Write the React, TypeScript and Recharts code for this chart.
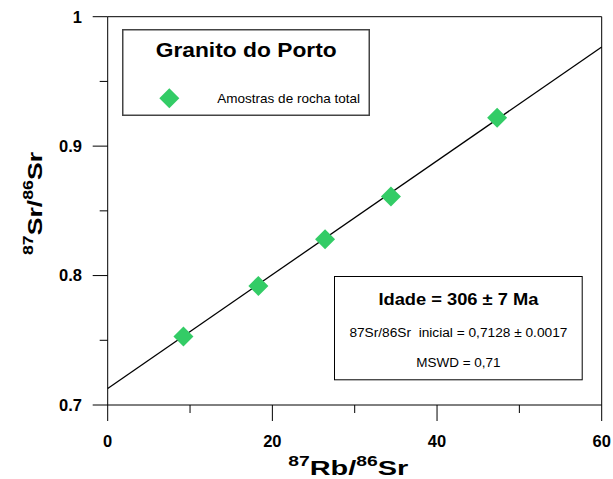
import React from 'react';
import { ScatterChart, Scatter, XAxis, YAxis, ReferenceLine, Legend } from 'recharts';

// Rb-Sr whole rock samples
const rbSr = [9.2, 18.3, 26.4, 34.4, 47.3];
const srSr = [0.753, 0.792, 0.828, 0.861, 0.922];

// isochron end points
const isoX = [0, 60];
const isoY = [0.7128, 0.9766];

const xTicks = [0, 10, 20, 30, 40, 50, 60];
const xMajor = [0, 20, 40, 60];
const yTicks = [0.7, 0.75, 0.8, 0.85, 0.9, 0.95, 1];
const yMajor = [0.7, 0.8, 0.9, 1];

const title = 'Granito do Porto';
const seriesName = 'Amostras de rocha total';
const infoLines = ['Idade = 306 ± 7 Ma', '87Sr/86Sr  inicial = 0,7128 ± 0.0017', 'MSWD = 0,71'];

const FONT = "Arial, 'Liberation Sans', Helvetica, sans-serif";
const GREEN = '#33CC66';

const points = rbSr.map((x, i) => ({ x, y: srSr[i] }));
const isochron = isoX.map((x, i) => ({ x, y: isoY[i] }));

const Diamond = (props: any) => {
  const { cx, cy } = props;
  const r = 10;
  return <polygon points={`${cx},${cy - r} ${cx + r},${cy} ${cx},${cy + r} ${cx - r},${cy}`} fill={GREEN} />;
};

const XTick = (props: any) => {
  const { x, y, payload } = props;
  const major = xMajor.includes(payload.value);
  return (
    <g>
      <line x1={x} x2={x} y1={y} y2={y + (major ? 16 : 8)} stroke="#000" />
      {major && (
        <text x={x} y={y + 41.7} textAnchor="middle" fontFamily={FONT} fontWeight="bold" fontSize={16.5} fill="#000">
          {payload.value}
        </text>
      )}
    </g>
  );
};

const YTick = (props: any) => {
  const { x, y, payload } = props;
  const major = yMajor.some(v => Math.abs(v - payload.value) < 1e-9);
  return (
    <g>
      <line x1={x - (major ? 15 : 8)} x2={x} y1={y} y2={y} stroke="#000" />
      {major && (
        <text x={x - 25.7} y={y + 5.8} textAnchor="end" fontFamily={FONT} fontWeight="bold" fontSize={16.5} fill="#000">
          {String(payload.value)}
        </text>
      )}
    </g>
  );
};

const XTitle = (props: any) => {
  const { viewBox } = props;
  const cx = viewBox.x + viewBox.width / 2 - 6.5;
  return (
    <text x={cx} y={viewBox.y + 70} textAnchor="middle" fontFamily={FONT} fontWeight="bold" fontSize={21}
      textLength={120} lengthAdjust="spacingAndGlyphs" fill="#000">
      <tspan fontSize={14} dy={-9}>87</tspan>
      <tspan dy={9}>Rb/</tspan>
      <tspan fontSize={14} dy={-9}>86</tspan>
      <tspan dy={9}>Sr</tspan>
    </text>
  );
};

const YTitle = () => {
  const x = 41.7;
  const y = 203.5;
  return (
    <text x={x} y={y} transform={`rotate(-90, ${x}, ${y})`} textAnchor="middle" fontFamily={FONT} fontWeight="bold"
      fontSize={21} textLength={103} lengthAdjust="spacingAndGlyphs" fill="#000">
      <tspan fontSize={14} dy={-9}>87</tspan>
      <tspan dy={9}>Sr/</tspan>
      <tspan fontSize={14} dy={-9}>86</tspan>
      <tspan dy={9}>Sr</tspan>
    </text>
  );
};

const LegendBox = () => (
  <svg width={248} height={87} style={{ display: 'block' }}>
    <rect x={0.75} y={0.75} width={246.5} height={85.5} fill="#fff" stroke="#444" strokeWidth={1.5} />
    <text x={124.2} y={28.3} textAnchor="middle" fontFamily={FONT} fontWeight="bold" fontSize={20}
      textLength={181} lengthAdjust="spacingAndGlyphs" fill="#000">{title}</text>
    <Diamond cx={47.3} cy={69.3} />
    <text x={95.3} y={74.3} fontFamily={FONT} fontSize={13} textLength={142.7} lengthAdjust="spacingAndGlyphs"
      fill="#000">{seriesName}</text>
  </svg>
);

const InfoBox = () => (
  <svg width={249} height={105} style={{ position: 'absolute', left: 333.5, top: 276, display: 'block' }}>
    <rect x={0.5} y={0.5} width={247.7} height={103.3} fill="#fff" stroke="#000" strokeWidth={1} />
    <text x={124.4} y={29} textAnchor="middle" fontFamily={FONT} fontWeight="bold" fontSize={17}
      textLength={160} lengthAdjust="spacingAndGlyphs" fill="#000">{infoLines[0]}</text>
    <text x={124.4} y={60.7} textAnchor="middle" fontFamily={FONT} fontSize={12.5} style={{ whiteSpace: 'pre' }}
      textLength={218} lengthAdjust="spacingAndGlyphs" fill="#000">{infoLines[1]}</text>
    <text x={124.4} y={91.3} textAnchor="middle" fontFamily={FONT} fontSize={12.5}
      textLength={84.3} lengthAdjust="spacingAndGlyphs" fill="#000">{infoLines[2]}</text>
  </svg>
);

export default function App() {
  return (
    <div style={{ position: 'absolute', left: 0, top: 0, width: 613, height: 479, background: '#fff', fontFamily: FONT }}>
      <ScatterChart width={613} height={479} margin={{ top: 16.7, right: 11.3, bottom: 14, left: 7.7 }}>
        <XAxis type="number" dataKey="x" domain={[0, 60]} ticks={xTicks} interval={0} tickSize={0} tickMargin={0}
          tick={<XTick />} axisLine={{ stroke: '#000' }} height={60} allowDataOverflow label={<XTitle />} />
        <YAxis type="number" dataKey="y" domain={[0.7, 1]} ticks={yTicks} interval={0} tickSize={0} tickMargin={0}
          tick={<YTick />} axisLine={{ stroke: '#000' }} width={100} allowDataOverflow />
        <ReferenceLine y={1} stroke="#000" />
        <ReferenceLine x={60} stroke="#000" />
        <Scatter name={seriesName} data={points} shape={<Diamond />} isAnimationActive={false} />
        <ReferenceLine segment={isochron} stroke="#000" strokeWidth={1.3} />
        <Legend layout="horizontal" verticalAlign="middle" align="center"
          wrapperStyle={{ left: 122, top: 29, width: 248, height: 87 }} content={() => <LegendBox />} />
      </ScatterChart>
      <svg width={613} height={479} style={{ position: 'absolute', left: 0, top: 0, pointerEvents: 'none' }}>
        <YTitle />
      </svg>
      <InfoBox />
    </div>
  );
}
